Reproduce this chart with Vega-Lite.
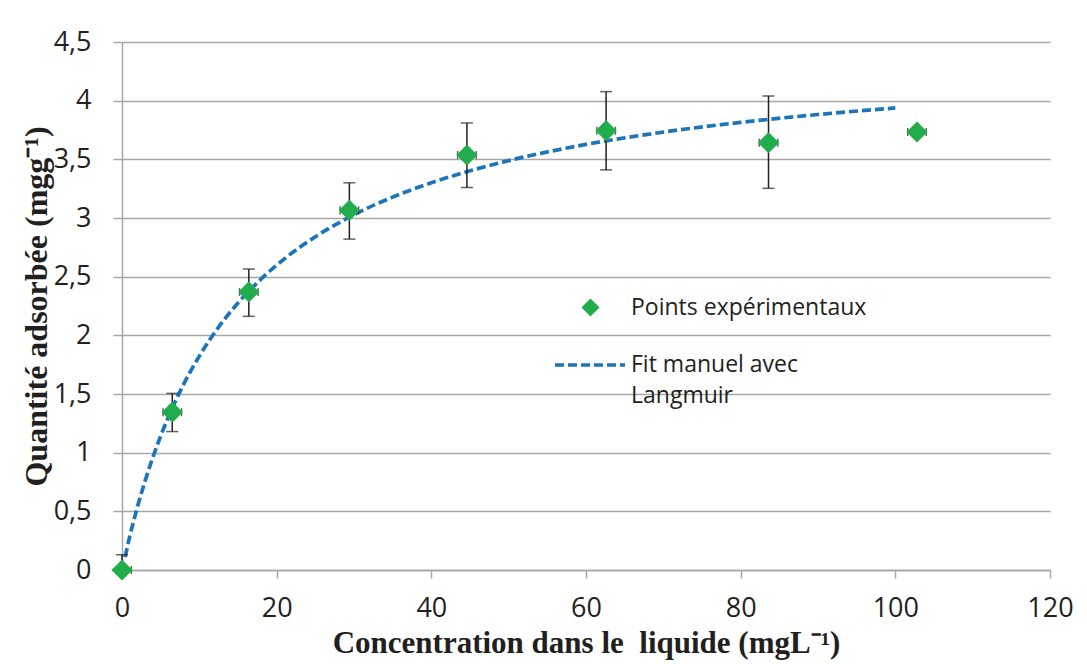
{
  "$schema": "https://vega.github.io/schema/vega-lite/v6.json",
  "width": 928,
  "height": 528,
  "autosize": {"type": "none"},
  "padding": {"left": 122, "top": 42, "right": 37, "bottom": 94},
  "background": "white",
  "config": {
    "view": {"stroke": null},
    "font": "Open Sans",
    "axis": {
      "labelFont": "Open Sans",
      "labelFontSize": 27,
      "labelColor": "#231f20",
      "labelFlush": false,
      "titleFont": "Liberation Serif",
      "titleFontSize": 32,
      "titleFontWeight": "bold",
      "titleColor": "#231f20",
      "domainColor": "#a6a6a6",
      "domainWidth": 1.5,
      "tickColor": "#a6a6a6",
      "tickWidth": 1.5,
      "gridColor": "#a6a6a6",
      "gridWidth": 1.5
    },
    "legend": {"labelFont": "Open Sans", "labelFontSize": 23, "labelColor": "#231f20"}
  },
  "datasets": {
    "pts": [
      {"C": 0, "q": 0, "lo": 0, "hi": 0.13, "xlo": -0.5, "xhi": 1.2, "series": "Points expérimentaux"},
      {"C": 6.5, "q": 1.345, "lo": 1.18, "hi": 1.505, "xlo": 5.3, "xhi": 7.7, "series": "Points expérimentaux"},
      {"C": 16.4, "q": 2.37, "lo": 2.162, "hi": 2.565, "xlo": 15.2, "xhi": 17.6, "series": "Points expérimentaux"},
      {"C": 29.4, "q": 3.065, "lo": 2.82, "hi": 3.3, "xlo": 28.2, "xhi": 30.6, "series": "Points expérimentaux"},
      {"C": 44.6, "q": 3.537, "lo": 3.26, "hi": 3.81, "xlo": 43.4, "xhi": 45.8, "series": "Points expérimentaux"},
      {"C": 62.6, "q": 3.744, "lo": 3.41, "hi": 4.077, "xlo": 61.4, "xhi": 63.8, "series": "Points expérimentaux"},
      {"C": 83.6, "q": 3.642, "lo": 3.253, "hi": 4.04, "xlo": 82.4, "xhi": 84.8, "series": "Points expérimentaux"},
      {"C": 102.8, "q": 3.733, "lo": 3.733, "hi": 3.733, "xlo": 101.6, "xhi": 104.0, "series": "Points expérimentaux"}
    ],
    "fit": [
      {"C": 0.4, "q": 0.11},
      {"C": 1, "q": 0.286},
      {"C": 2, "q": 0.538},
      {"C": 3, "q": 0.762},
      {"C": 4, "q": 0.962},
      {"C": 5, "q": 1.142},
      {"C": 6, "q": 1.304},
      {"C": 8, "q": 1.587},
      {"C": 10, "q": 1.823},
      {"C": 12, "q": 2.025},
      {"C": 15, "q": 2.276},
      {"C": 18, "q": 2.481},
      {"C": 21, "q": 2.652},
      {"C": 25, "q": 2.84},
      {"C": 30, "q": 3.028},
      {"C": 35, "q": 3.178},
      {"C": 40, "q": 3.3},
      {"C": 45, "q": 3.402},
      {"C": 50, "q": 3.489},
      {"C": 60, "q": 3.627},
      {"C": 70, "q": 3.732},
      {"C": 80, "q": 3.815},
      {"C": 90, "q": 3.882},
      {"C": 100, "q": 3.938}
    ]
  },
  "layer": [
    {
      "data": {"name": "fit"},
      "transform": [{"calculate": "'Fit manuel avec Langmuir'", "as": "series"}],
      "mark": {"type": "line", "color": "#1b75bc", "strokeWidth": 3.7, "interpolate": "monotone", "clip": true},
      "encoding": {
        "x": {
          "field": "C", "type": "quantitative",
          "scale": {"domain": [0, 120], "nice": false, "zero": false},
          "axis": {
            "title": "Concentration dans le\u00a0 liquide (mgL⁻¹)",
            "titleFontSize": 31,
            "values": [0, 20, 40, 60, 80, 100, 120],
            "grid": false,
            "tickSize": 8,
            "labelPadding": 17,
            "titlePadding": 7
          }
        },
        "y": {
          "field": "q", "type": "quantitative",
          "scale": {"domain": [0, 4.5], "nice": false},
          "axis": {
            "title": "Quantité adsorbée (mgg⁻¹)",
            "values": [0, 0.5, 1, 1.5, 2, 2.5, 3, 3.5, 4, 4.5],
            "format": "~g",
            "labelExpr": "replace(datum.label, '.', ',')",
            "grid": true,
            "tickSize": 9,
            "labelPadding": 22,
            "titlePadding": 0
          }
        },
        "strokeDash": {
          "field": "series", "type": "nominal",
          "scale": {"range": [[9, 4]]},
          "legend": {
            "title": null,
            "orient": "none",
            "legendX": 431,
            "legendY": 286,
            "symbolType": "stroke",
            "symbolStrokeColor": "#1b75bc",
            "symbolStrokeWidth": 3.7,
            "symbolSize": 4900,
            "labelOffset": 4,
            "labelBaseline": "middle",
            "labelExpr": "['Fit manuel avec', 'Langmuir']",
            "labelLimit": 400,
            "encode": {"labels": {"update": {"lineHeight": {"value": 31}}}}
          }
        }
      }
    },
    {
      "data": {"name": "pts"},
      "mark": {"type": "rule", "color": "#231f20", "strokeWidth": 1.5},
      "encoding": {
        "x": {"field": "C", "type": "quantitative"},
        "y": {"field": "lo", "type": "quantitative"},
        "y2": {"field": "hi"}
      }
    },
    {
      "data": {"name": "pts"},
      "mark": {"type": "tick", "orient": "horizontal", "color": "#231f20", "size": 12, "thickness": 1.5},
      "encoding": {
        "x": {"field": "C", "type": "quantitative"},
        "y": {"field": "hi", "type": "quantitative"}
      }
    },
    {
      "data": {"name": "pts"},
      "mark": {"type": "tick", "orient": "horizontal", "color": "#231f20", "size": 12, "thickness": 1.5},
      "encoding": {
        "x": {"field": "C", "type": "quantitative"},
        "y": {"field": "lo", "type": "quantitative"}
      }
    },
    {
      "data": {"name": "pts"},
      "mark": {"type": "rule", "color": "#231f20", "strokeWidth": 1.5},
      "encoding": {
        "x": {"field": "xlo", "type": "quantitative"},
        "x2": {"field": "xhi"},
        "y": {"field": "q", "type": "quantitative"}
      }
    },
    {
      "data": {"name": "pts"},
      "mark": {"type": "tick", "orient": "vertical", "color": "#231f20", "size": 8, "thickness": 1.5},
      "encoding": {
        "x": {"field": "xlo", "type": "quantitative"},
        "y": {"field": "q", "type": "quantitative"}
      }
    },
    {
      "data": {"name": "pts"},
      "mark": {"type": "tick", "orient": "vertical", "color": "#231f20", "size": 8, "thickness": 1.5},
      "encoding": {
        "x": {"field": "xhi", "type": "quantitative"},
        "y": {"field": "q", "type": "quantitative"}
      }
    },
    {
      "data": {"name": "pts"},
      "mark": {"type": "point", "filled": true, "color": "#21ad4b", "opacity": 1, "size": 450},
      "encoding": {
        "x": {"field": "C", "type": "quantitative"},
        "y": {"field": "q", "type": "quantitative"},
        "shape": {
          "field": "series", "type": "nominal",
          "scale": {"range": ["diamond"]},
          "legend": {
            "title": null,
            "orient": "none",
            "legendX": 457,
            "legendY": 254,
            "symbolFillColor": "#21ad4b",
            "symbolStrokeColor": "#21ad4b",
            "symbolOpacity": 1,
            "symbolSize": 330,
            "labelOffset": 29,
            "labelLimit": 400
          }
        }
      }
    }
  ]
}
